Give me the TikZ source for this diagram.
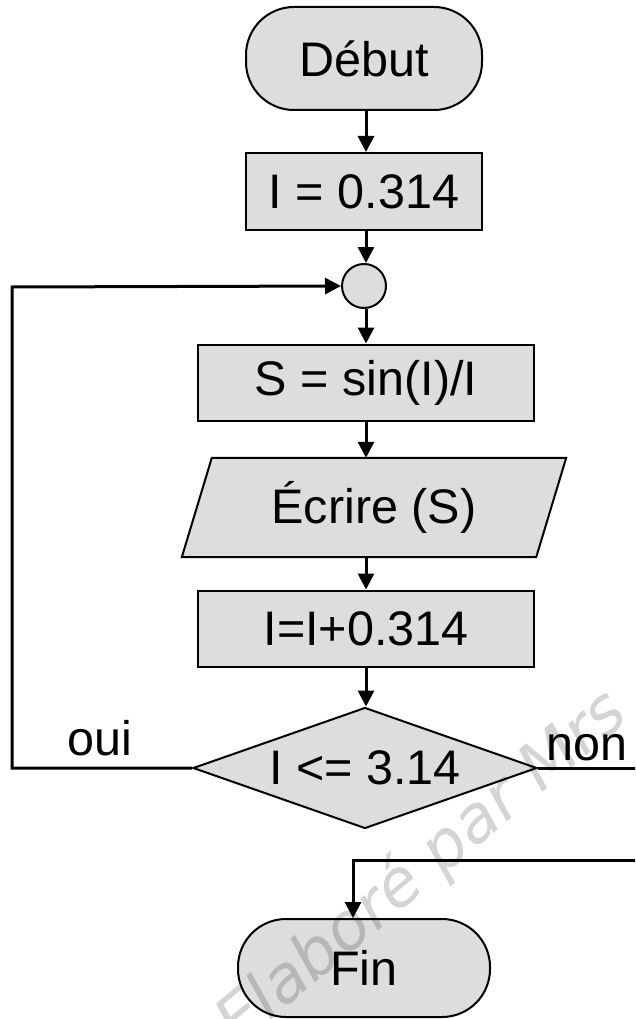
\documentclass[tikz,border=0pt]{standalone}
\usepackage{fontspec}
\setmainfont{Liberation Sans}
\newfontfamily\wmfont{DejaVu Sans}
\usetikzlibrary{arrows.meta,shapes.geometric,calc,backgrounds}
\definecolor{boxgray}{HTML}{DDDDDD}
\begin{document}
\begin{tikzpicture}[x=1pt,y=-1pt,
  every node/.style={font=\fontsize{48.5}{54}\selectfont, inner sep=0pt},
  box/.style={draw=black, line width=2pt, fill=boxgray, minimum width=336pt, minimum height=76pt},
  term/.style={draw=black, line width=2pt, fill=boxgray, rounded corners=48pt, minimum width=236pt, minimum height=103pt},
  conn/.style={line width=3pt, -{Triangle[length=16pt,width=16pt]}},
  plain/.style={line width=3pt}
]
\useasboundingbox (0,0) rectangle (635,1019);
\clip (0,0) rectangle (635,1019);

\node[term] (debut) at (364,58.5) {Début};
\node[box, minimum width=236pt, minimum height=77pt] (init) at (364,191.5) {I = 0.314};
\node[circle, draw=black, line width=2pt, fill=boxgray, minimum size=44pt] (join) at (364,286) {};
\node[box] (calc) at (366,382.5) {S = sin(I)/I};
\node[minimum width=354pt, minimum height=99pt] (ecrire) at (374,507.5) {Écrire (S)};
\begin{scope}[on background layer]
\draw[line width=2pt, fill=boxgray]
  ($(ecrire.north west)+(15,0)$) -- ($(ecrire.north east)+(15,0)$) --
  ($(ecrire.south east)+(-15,0)$) -- ($(ecrire.south west)+(-15,0)$) -- cycle;
\end{scope}
\node[box] (incr) at (366,628.5) {I=I+0.314};
\node[diamond, draw=black, line width=2pt, fill=boxgray, aspect=2.84, minimum width=344pt, minimum height=121pt] (test) at (365,768) {I <= 3.14};
\node[term, minimum width=252pt, minimum height=98pt] (fin) at (364,968) {Fin};

\node[anchor=base west] (oui) at (67,755) {oui};
\node[anchor=base west] (non) at (546,760) {non};

\coordinate (loopL) at (12,768);
\coordinate (loopT) at (12,287);
\coordinate (nonE) at (636,768);
\coordinate (retE) at (636,860);
\coordinate (retC) at (353,860);

\draw[conn] (debut.south -| 366,0) -- (init.north -| 366,0);
\draw[conn] (init.south -| 366,0) -- (join.north -| 366,0);
\draw[conn] (join.south -| 366,0) -- (calc.north -| 366,0);
\draw[conn] (calc.south -| 366,0) -- (ecrire.north -| 366,0);
\draw[conn] (ecrire.south -| 366,0) -- (incr.north -| 366,0);
\draw[conn] (incr.south -| 366,0) -- (test.north -| 366,0);
\draw[conn] (test.west) -- (loopL) -- (loopT) -- (join.west);
\draw[plain] (test.east) -- (nonE);
\draw[conn] (retE) -- (retC) -- (fin.north -| retC);

\node[font=\wmfont\itshape\fontsize{65}{67}\selectfont, text=black, opacity=0.17, rotate=40, anchor=base west] (wm) at (238,1048) {Elaboré par Mrs};
\end{tikzpicture}
\end{document}
